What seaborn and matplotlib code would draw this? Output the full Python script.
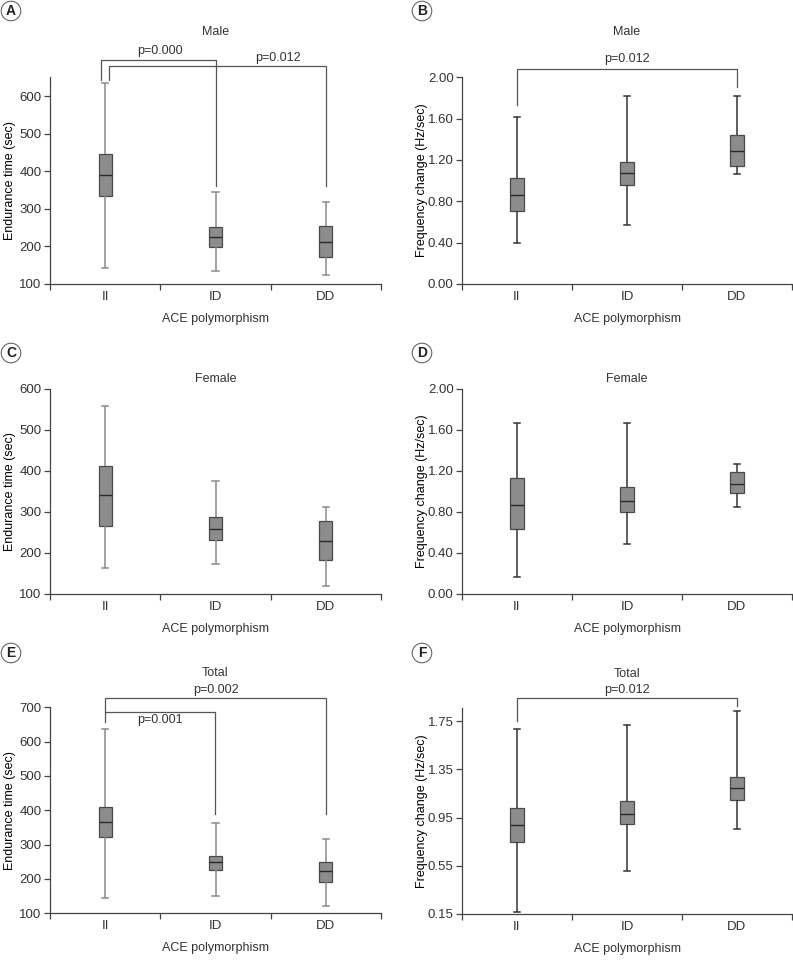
import numpy as np
import pandas as pd
import matplotlib
matplotlib.use("Agg")
import matplotlib.pyplot as plt
from matplotlib.ticker import FormatStrFormatter
import seaborn as sns

# ---------- data: five-number summaries (min, Q1, median, Q3, max) per genotype ----------
genotypes = ["II", "ID", "DD"]

male_time = [[142, 334, 390, 445, 635], [135, 198, 225, 251, 346], [124, 172, 212, 254, 318]]
male_freq = [[0.40, 0.71, 0.86, 1.03, 1.62], [0.57, 0.96, 1.07, 1.18, 1.82], [1.06, 1.145, 1.29, 1.44, 1.82]]
female_time = [[164, 266, 341, 412, 559], [174, 231, 258, 287, 374], [120, 184, 230, 277, 313]]
female_freq = [[0.17, 0.63, 0.87, 1.13, 1.67], [0.49, 0.80, 0.91, 1.04, 1.67], [0.85, 0.98, 1.07, 1.185, 1.27]]
total_time = [[144, 323, 367, 410, 638], [149, 225, 249, 267, 364], [120, 191, 222, 250, 316]]
total_freq = [[0.17, 0.75, 0.887, 1.034, 1.685], [0.507, 0.895, 0.978, 1.084, 1.723], [0.859, 1.10, 1.194, 1.288, 1.837]]

# ---------- style ----------
plt.rcParams["font.family"] = ["Liberation Sans", "DejaVu Sans"]
plt.rcParams["axes.edgecolor"] = "#444444"
plt.rcParams["xtick.color"] = "#444444"
plt.rcParams["ytick.color"] = "#444444"
plt.rcParams["xtick.labelcolor"] = "#333333"
plt.rcParams["ytick.labelcolor"] = "#333333"
plt.rcParams["text.color"] = "#333333"

BOX_FILL = "#8c8c8c"
BOX_EDGE = "#4a4a4a"
LINE_DARK = "#333333"
LINE_GRAY = "#8a8a8a"
BRACKET = "#555555"

W, H = 793, 975
fig = plt.figure(figsize=(W / 100, H / 100), dpi=100)


def rect(left, top, right, bottom):
    return [left / W, 1 - bottom / H, (right - left) / W, (bottom - top) / H]


def draw_panel(ax, summary, ylim, yticks, yfmt, ylabel, title, title_gap, whisker_color):
    df = pd.DataFrame({
        "genotype": np.repeat(genotypes, 5),
        "value": np.concatenate(summary),
    })
    sns.boxplot(
        data=df, x="genotype", y="value", order=genotypes,
        whis=(0, 100), width=0.12, color=BOX_FILL, linecolor=BOX_EDGE,
        linewidth=0.9, saturation=1, showfliers=False,
        whiskerprops=dict(color=whisker_color, linewidth=1.1),
        capprops=dict(color=whisker_color, linewidth=1.1),
        medianprops=dict(color="#2a2a2a", linewidth=1.0),
        ax=ax,
    )
    ax.set_xlim(-0.5, 2.5)
    ax.set_ylim(*ylim)
    ax.set_yticks(yticks)
    ax.yaxis.set_major_formatter(FormatStrFormatter(yfmt))
    ax.set_xticks([-0.5, 0.5, 1.5, 2.5], minor=True)
    ax.tick_params(axis="x", which="major", length=0, pad=5, labelsize=9.5)
    ax.tick_params(axis="x", which="minor", length=4, width=0.9, direction="out")
    ax.tick_params(axis="y", length=4, width=0.9, pad=2, labelsize=9.5)
    for s in ["top", "right"]:
        ax.spines[s].set_visible(False)
    for s in ["left", "bottom"]:
        ax.spines[s].set_linewidth(0.9)
    ax.set_xlabel("")
    h_px = ax.get_position().height * H
    ax.text(0.5, -35 / h_px, "ACE polymorphism", transform=ax.transAxes,
            ha="center", va="center", fontsize=9)
    ax.set_ylabel(ylabel, fontsize=9)
    ax.yaxis.set_label_coords(-34 / 331, 0.5)
    ax.text(0.5, 1 + title_gap / h_px, title, transform=ax.transAxes,
            ha="center", va="center", fontsize=9)


def bracket(ax, x0, x1, y_top, y_left, y_right):
    ax.plot([x0, x0, x1, x1], [y_left, y_top, y_top, y_right],
            color=BRACKET, linewidth=0.9, clip_on=False)


def panel_letter(x, y, letter):
    fig.text(x / W, 1 - y / H, letter, ha="center", va="center",
             fontsize=10, fontweight="bold", color="#222222",
             bbox=dict(boxstyle="circle,pad=0.2", fc="white", ec="#666666", lw=0.8))


ax_a = fig.add_axes(rect(50, 77.3, 381, 284))
ax_b = fig.add_axes(rect(462, 77.3, 792, 284))
ax_c = fig.add_axes(rect(50, 388.7, 381, 594))
ax_d = fig.add_axes(rect(462, 388.7, 792, 594))
ax_e = fig.add_axes(rect(50, 707.3, 381, 913.3))
ax_f = fig.add_axes(rect(462, 708, 792, 914))

time_label = "Endurance time (sec)"
freq_label = "Frequency change (Hz/sec)"

draw_panel(ax_a, male_time, (100, 650), range(100, 601, 100), "%d", time_label, "Male", 45, LINE_GRAY)
draw_panel(ax_b, male_freq, (0, 2.0), np.arange(0, 2.01, 0.4), "%.2f", freq_label, "Male", 45, LINE_DARK)
draw_panel(ax_c, female_time, (100, 600), range(100, 601, 100), "%d", time_label, "Female", 10, LINE_GRAY)
draw_panel(ax_d, female_freq, (0, 2.0), np.arange(0, 2.01, 0.4), "%.2f", freq_label, "Female", 10, LINE_DARK)
draw_panel(ax_e, total_time, (100, 700), range(100, 701, 100), "%d", time_label, "Total", 34, LINE_GRAY)
draw_panel(ax_f, total_freq, (0.15, 1.86), [0.15, 0.55, 0.95, 1.35, 1.75], "%.2f", freq_label, "Total", 34, LINE_DARK)

# ---------- significance brackets ----------
bracket(ax_a, -0.04, 1.0, 696, 643, 362)
ax_a.text(0.5, 719, "p=0.000", ha="center", va="center", fontsize=9)
bracket(ax_a, 0.036, 2.0, 679, 643, 362)
ax_a.text(1.57, 701, "p=0.012", ha="center", va="center", fontsize=9)

bracket(ax_b, 0.0, 2.0, 2.077, 1.732, 1.91)
ax_b.text(1.0, 2.174, "p=0.012", ha="center", va="center", fontsize=9)

bracket(ax_e, 0.0, 2.0, 727, 686, 389)
ax_e.text(1.0, 750, "p=0.002", ha="center", va="center", fontsize=9)
bracket(ax_e, 0.0, 0.994, 686, 658, 389)
ax_e.text(0.5, 663, "p=0.001", ha="center", va="center", fontsize=9)

bracket(ax_f, 0.0, 2.0, 1.945, 1.754, 1.873)
ax_f.text(1.0, 2.01, "p=0.012", ha="center", va="center", fontsize=9)

for x, y, letter in [(11, 11, "A"), (422, 11, "B"), (11, 353, "C"),
                     (422, 353, "D"), (11, 653, "E"), (422, 653, "F")]:
    panel_letter(x, y, letter)

fig.savefig("out.png", dpi=100)
